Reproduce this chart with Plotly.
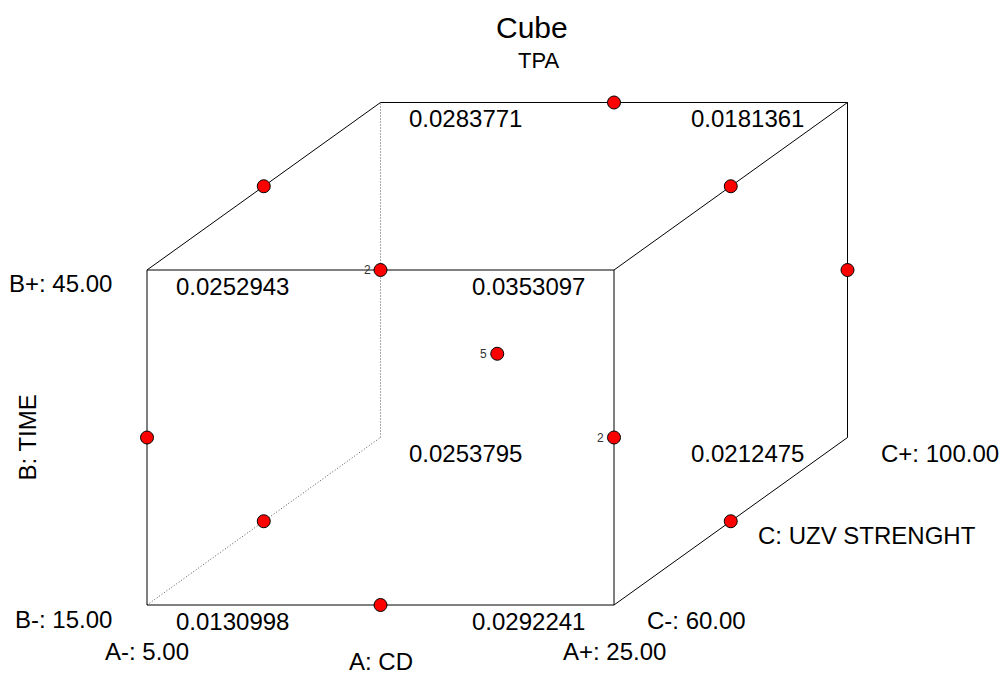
import plotly.graph_objects as go
from collections import OrderedDict

# ---------------- data ----------------
title_text = "Cube"
response_name = "TPA"
factor_names = ["A: CD", "B: TIME", "C: UZV STRENGHT"]
factor_low = ["5.00", "15.00", "60.00"]
factor_high = ["25.00", "45.00", "100.00"]

# cube corners (coded levels) and predicted response
corner_A = [-1, 1, -1, 1, -1, 1, -1, 1]
corner_B = [-1, -1, 1, 1, -1, -1, 1, 1]
corner_C = [-1, -1, -1, -1, 1, 1, 1, 1]
corner_val = ["0.0130998", "0.0292241", "0.0252943", "0.0353097",
              "0.0253795", "0.0212475", "0.0283771", "0.0181361"]

# design points (Box-Behnken) and number of runs at each
run_A = [0, -1, 1, 0, -1, 1, -1, 1, 0, -1, 1, 0, 0]
run_B = [1, 1, 1, 1, 0, 0, 0, 0, -1, -1, -1, -1, 0]
run_C = [1, 0, 0, -1, 1, 1, -1, -1, 1, 0, 0, -1, 0]
run_n = [1, 1, 1, 1, 1, 1, 1, 1, 1, 1, 1, 1, 5]

# ---------------- oblique projection ----------------
DEPTH = 0.5


def px(a, c):
    return a + DEPTH * c


def py(b, c):
    return b + DEPTH * c


FONT = "Liberation Sans, Arial, sans-serif"
fig = go.Figure()

# edges of the cube
hidden = (-1, -1, 1)
corners = list(zip(corner_A, corner_B, corner_C))
solid_x, solid_y, dot_x, dot_y = [], [], [], []
for i, p in enumerate(corners):
    for q in corners[i + 1:]:
        if sum(1 for u, v in zip(p, q) if u != v) != 1:
            continue
        seg_x = [px(p[0], p[2]), px(q[0], q[2]), None]
        seg_y = [py(p[1], p[2]), py(q[1], q[2]), None]
        if hidden in (p, q):
            if p[0] != q[0]:
                continue  # omitted back-bottom edge
            dot_x += seg_x
            dot_y += seg_y
        else:
            solid_x += seg_x
            solid_y += seg_y

fig.add_trace(go.Scatter(x=dot_x, y=dot_y, mode="lines",
                         line=dict(color="#555555", width=1, dash="1px,2px"),
                         hoverinfo="skip", showlegend=False))
fig.add_trace(go.Scatter(x=solid_x, y=solid_y, mode="lines",
                         line=dict(color="black", width=1),
                         hoverinfo="skip", showlegend=False))

# design points, grouped by plotted location
groups = OrderedDict()
for a, b, c, n in zip(run_A, run_B, run_C, run_n):
    key = (round(px(a, c), 6), round(py(b, c), 6))
    groups[key] = groups.get(key, 0) + n
gx = [k[0] for k in groups]
gy = [k[1] for k in groups]
fig.add_trace(go.Scatter(x=gx, y=gy, mode="markers",
                         marker=dict(color="#FF0000", size=13,
                                     line=dict(color="black", width=1)),
                         hoverinfo="skip", showlegend=False))
for (x, y), n in groups.items():
    if n > 1:
        fig.add_annotation(x=x, y=y, text=str(n), showarrow=False,
                           xanchor="right", yanchor="middle", xshift=-8,
                           font=dict(family=FONT, size=12, color="#333333"))

VAL_SIZE = 24
# corner response values
for a, b, c, v in zip(corner_A, corner_B, corner_C, corner_val):
    if a < 0:
        xs = 85
    else:
        xs = -86 if c < 0 else -100
    fig.add_annotation(x=px(a, c), y=py(b, c), text=v, showarrow=False,
                       xanchor="center", yanchor="middle", xshift=xs,
                       yshift=-16, font=dict(family=FONT, size=VAL_SIZE, color="black"))

lab_font = dict(family=FONT, size=VAL_SIZE, color="black")
# factor A labels
fig.add_annotation(x=px(-1, -1), y=py(-1, -1), text="A-: " + factor_low[0],
                   showarrow=False, xanchor="center", yanchor="middle",
                   yshift=-46, font=lab_font)
fig.add_annotation(x=px(1, -1), y=py(-1, -1), text="A+: " + factor_high[0],
                   showarrow=False, xanchor="center", yanchor="middle",
                   yshift=-46, font=lab_font)
fig.add_annotation(x=px(0, -1), y=py(-1, -1), text=factor_names[0],
                   showarrow=False, xanchor="center", yanchor="middle",
                   yshift=-56, font=lab_font)
# factor B labels
fig.add_annotation(x=px(-1, -1), y=py(1, -1), text="B+: " + factor_high[1],
                   showarrow=False, xanchor="right", yanchor="middle",
                   xshift=-33, yshift=-13, font=lab_font)
fig.add_annotation(x=px(-1, -1), y=py(-1, -1), text="B-: " + factor_low[1],
                   showarrow=False, xanchor="right", yanchor="middle",
                   xshift=-33, yshift=-14, font=lab_font)
fig.add_annotation(x=px(-1, -1), y=py(0, -1), text=factor_names[1],
                   showarrow=False, xanchor="center", yanchor="middle",
                   textangle=-90, xshift=-120, font=lab_font)
# factor C labels
fig.add_annotation(x=px(1, -1), y=py(-1, -1), text="C-: " + factor_low[2],
                   showarrow=False, xanchor="left", yanchor="middle",
                   xshift=31, yshift=-15, font=lab_font)
fig.add_annotation(x=px(1, 1), y=py(-1, 1), text="C+: " + factor_high[2],
                   showarrow=False, xanchor="left", yanchor="middle",
                   xshift=31, yshift=-16, font=lab_font)
fig.add_annotation(x=px(1, 0), y=py(-1, 0), text=factor_names[2],
                   showarrow=False, xanchor="left", yanchor="middle",
                   xshift=25, yshift=-14, font=lab_font)

# titles
fig.add_annotation(xref="paper", yref="paper", x=532 / 1001, y=1 - 28 / 675,
                   text=title_text, showarrow=False, xanchor="center",
                   yanchor="middle", font=dict(family=FONT, size=30, color="black"))
fig.add_annotation(xref="paper", yref="paper", x=538 / 1001, y=1 - 60 / 675,
                   text=response_name, showarrow=False, xanchor="center",
                   yanchor="middle", font=dict(family=FONT, size=22, color="black"))

fig.update_layout(
    width=1001, height=675,
    margin=dict(l=0, r=0, t=0, b=0),
    paper_bgcolor="white", plot_bgcolor="white",
    xaxis=dict(range=[-2.1296, 2.1574], visible=False, fixedrange=True),
    yaxis=dict(range=[-1.9179, 2.1119], visible=False, fixedrange=True),
    showlegend=False,
)

fig.write_html("out.html",
               config={"displayModeBar": False},
               post_script="document.body.style.margin='0';"
                           "document.body.style.overflow='hidden';")
